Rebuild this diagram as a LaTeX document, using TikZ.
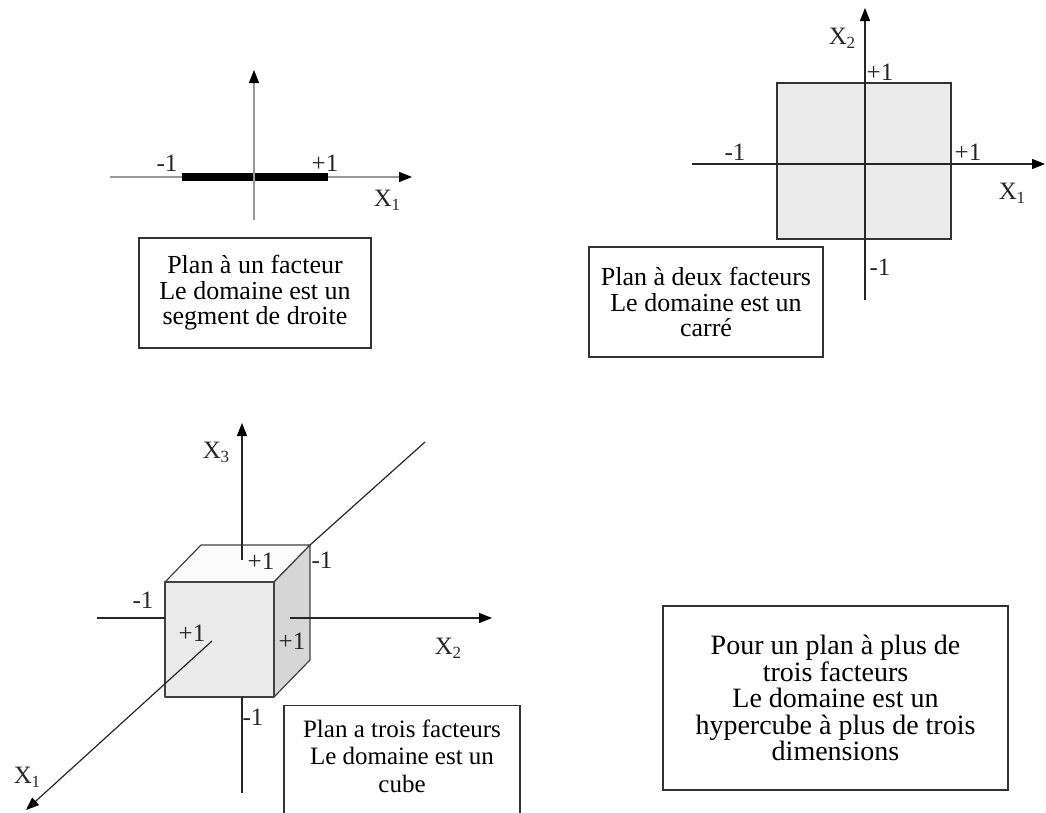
\documentclass[tikz,border=0pt]{standalone}
\usepackage{fontspec}
\setmainfont{Liberation Serif}
\usetikzlibrary{
    arrows.meta,
    positioning
}
\tikzset{
  axis/.style     = {line width=1.2pt, black!85,
                     -{Triangle[length=13pt, width=10pt, black]}},
  axisline/.style = {line width=1.2pt, black!85},
  frame/.style    = {draw=black!80, line width=1.4pt, align=center,
                     inner sep=0pt, font=\fontsize{26}{25.5}\selectfont},
  lab/.style      = {inner sep=0pt, black!85, font=\fontsize{25}{25}\selectfont}
}
\newcommand{\Xax}[1]{X\kern-0.5pt\raisebox{-0.35ex}{\fontsize{17}{17}\selectfont #1}}

\begin{document}
\begin{tikzpicture}[x=1pt, y=-1pt,
    face/.style={draw=black!75, line width=1.2pt, line join=round},
    seg/.style={line width=8pt, black},
    grayaxis/.style={axis, gray!80}
  ]
    \useasboundingbox (0,0) rectangle (1046,812);

    % un facteur
    \coordinate (oneL) at (110,177);  \coordinate (oneR) at (412,177);
    \coordinate (oneB) at (254,220);  \coordinate (oneT) at (254,70);
    \coordinate (segL) at (182,177);  \coordinate (segR) at (328,177);
    \draw[grayaxis] (oneL) -- (oneR);
    \draw[seg] (segL) -- (segR);
    \draw[grayaxis] (oneB) -- (oneT);
    \node[lab] (oneM) at (167,163) {-1};
    \node[lab] (oneP) at (325,163) {+1};
    \node[lab] (oneX) at (387,200) {\Xax{1}};
    \node[frame, minimum width=232pt, minimum height=110pt] (box1) at (255,293)
        {Plan à un facteur\\Le domaine est un\\segment de droite};

    % deux facteurs
    \node[draw=black!80, line width=1.2pt, fill=gray!16,
          minimum width=174pt, minimum height=156pt] (sq) at (864,161) {};
    \coordinate (twoL) at (692,164);  \coordinate (twoR) at (1045,164);
    \coordinate (twoB) at (865,300);  \coordinate (twoT) at (865,8);
    \draw[axis] (twoL) -- (twoR);
    \draw[axis] (twoB) -- (twoT);
    \node[lab] (twoX2) at (842,38)  {\Xax{2}};
    \node[lab] (twoTP) at (880,72)  {+1};
    \node[lab] (twoLM) at (735,152) {-1};
    \node[lab] (twoRP) at (968,152) {+1};
    \node[lab] (twoX1) at (1012,193) {\Xax{1}};
    \node[lab] (twoBM) at (880,267) {-1};
    \node[frame, minimum width=234pt, minimum height=110pt] (box2) at (706,302)
        {Plan à deux facteurs\\Le domaine est un\\carré};

    % trois facteurs
    \coordinate (cA) at (165,582);  \coordinate (cB) at (274,582);
    \coordinate (cC) at (274,697);  \coordinate (cD) at (165,697);
    \coordinate (cE) at (201,545);  \coordinate (cF) at (310,545);
    \coordinate (cG) at (310,660);
    \filldraw[face, fill=gray!3]  (cA) -- (cB) -- (cF) -- (cE) -- cycle;
    \filldraw[face, fill=gray!32] (cB) -- (cC) -- (cG) -- (cF) -- cycle;
    \filldraw[face, fill=gray!16] (cA) -- (cB) -- (cC) -- (cD) -- cycle;

    \coordinate (x3in) at (242,560);  \coordinate (x3top) at (242,423);
    \coordinate (x3lo) at (242,697);  \coordinate (x3bot) at (242,793);
    \coordinate (x2far) at (97,618);  \coordinate (x2lo) at (165,618);
    \coordinate (x2in) at (290,618);  \coordinate (x2tip) at (492,618);
    \coordinate (x1far) at (425,442); \coordinate (x1in) at (212,641);
    \coordinate (x1tip) at (26,810);
    \draw[axis] (x3in) -- (x3top);
    \draw[axisline] (x3lo) -- (x3bot);
    \draw[axisline] (x2far) -- (x2lo);
    \draw[axis] (x2in) -- (x2tip);
    \draw[axisline] (x1far) -- (cF);
    \draw[axis] (x1in) -- (x1tip);

    \node[lab] (thrX3) at (216,452) {\Xax{3}};
    \node[lab] (thrTP) at (261,561) {+1};
    \node[lab] (thrRM) at (322,560) {-1};
    \node[lab] (thrLM) at (143,600) {-1};
    \node[lab] (thrFP) at (192,633) {+1};
    \node[lab] (thrSP) at (292,641) {+1};
    \node[lab] (thrBM) at (253,717) {-1};
    \node[lab] (thrX2) at (448,648) {\Xax{2}};
    \node[lab] (thrX1) at (27,777)  {\Xax{1}};

    \node[frame, minimum width=236pt, minimum height=140pt, anchor=north]
        (box3) at (402,705) {};
    \node[frame, draw=none, below=14pt of box3.north, font=\fontsize{25}{27.5}\selectfont]
        (box3txt) {Plan a trois facteurs\\Le domaine est un\\cube};

    % plus de trois facteurs
    \node[frame, minimum width=345pt, minimum height=184pt,
          font=\fontsize{28}{26.5}\selectfont] (box4) at (835.5,698)
        {Pour un plan à plus de\\trois facteurs\\Le domaine est un\\hypercube à plus de trois\\dimensions};
  \end{tikzpicture}
\end{document}
